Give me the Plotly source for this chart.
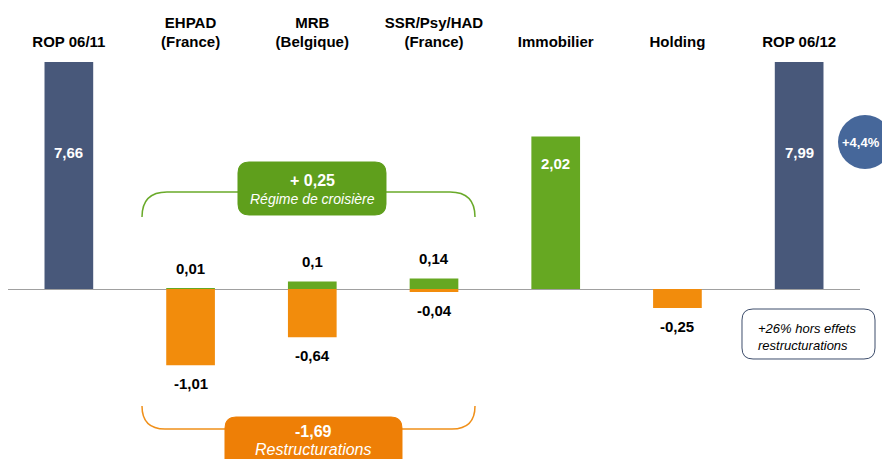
import plotly.graph_objects as go

# ---- data ----
categories = ["ROP 06/11", "EHPAD<br>(France)", "MRB<br>(Belgique)", "SSR/Psy/HAD<br>(France)",
              "Immobilier", "Holding", "ROP 06/12"]
rop_values = [7.66, None, None, None, None, None, 7.99]
gain_values = [None, 0.01, 0.1, 0.14, 2.02, None, None]
loss_values = [None, -1.01, -0.64, -0.04, None, -0.25, None]
croisiere_total = "+ 0,25"
croisiere_label = "Régime de croisière"
restruct_total = "-1,69"
restruct_label = "Restructurations"
growth_label = "+4,4%"
note_label = "+26% hors effets<br>restructurations"

# ---- styling / geometry ----
OFF = 8  # page body margin
W_FIG, H_FIG = 890 - OFF, 459 - OFF
L, T, R, B = 0, 62 - OFF, 30, 0
PW, PH = W_FIG - L - R, H_FIG - T - B
ZERO_PX = 289
SCALE = 75.5  # px per unit
PLOT_BOTTOM_PX = OFF + H_FIG
y_top = (ZERO_PX - 62) / SCALE
y_bot = -(PLOT_BOTTOM_PX - ZERO_PX) / SCALE

NAVY = "#48587a"
GREEN = "#66a822"
ORANGE = "#f28c0c"
FONT = "Liberation Sans, Arial, sans-serif"


def fmt(v):
    return f"{v:g}".replace(".", ",")


def px(x):
    return (x - OFF - L) / PW


def py(y):
    return (T + PH - (y - OFF)) / PH


def P(x, y):
    return f"{px(x):.5f},{py(y):.5f}"


def rrect(x0, y0, x1, y1, r):
    return (f"M {P(x0 + r, y0)} L {P(x1 - r, y0)} Q {P(x1, y0)} {P(x1, y0 + r)} "
            f"L {P(x1, y1 - r)} Q {P(x1, y1)} {P(x1 - r, y1)} L {P(x0 + r, y1)} "
            f"Q {P(x0, y1)} {P(x0, y1 - r)} L {P(x0, y0 + r)} Q {P(x0, y0)} {P(x0 + r, y0)} Z")


fig = go.Figure()
fig.add_trace(go.Bar(x=categories, y=rop_values, marker=dict(color=NAVY, line=dict(width=0)),
                     width=0.4, hoverinfo="skip"))
fig.add_trace(go.Bar(x=categories, y=gain_values, marker=dict(color=GREEN, line=dict(width=0)),
                     width=0.4, hoverinfo="skip"))
fig.add_trace(go.Bar(x=categories, y=loss_values, marker=dict(color=ORANGE, line=dict(width=0)),
                     width=0.4, hoverinfo="skip"))

annotations = []
# value labels
for i, v in enumerate(rop_values):
    if v is not None:
        annotations.append(dict(x=categories[i], y=y_top, xref="x", yref="y", text=f"<b>{fmt(v)}</b>",
                                showarrow=False, xanchor="center", yanchor="top", yshift=-80,
                                font=dict(family=FONT, size=15, color="white")))
for i, v in enumerate(gain_values):
    if v is None:
        continue
    if v > 1:
        annotations.append(dict(x=categories[i], y=v, text=f"<b>{fmt(v)}</b>", showarrow=False,
                                xanchor="center", yanchor="top", yshift=-17,
                                font=dict(family=FONT, size=15, color="white")))
    else:
        annotations.append(dict(x=categories[i], y=v, text=f"<b>{fmt(v)}</b>", showarrow=False,
                                xanchor="center", yanchor="bottom", yshift=9,
                                font=dict(family=FONT, size=15, color="black")))
for i, v in enumerate(loss_values):
    if v is None:
        continue
    annotations.append(dict(x=categories[i], y=v, text=f"<b>{fmt(v)}</b>", showarrow=False,
                            xanchor="center", yanchor="top", yshift=-8,
                            font=dict(family=FONT, size=15, color="black")))


# box texts
def ptext(x, y, text, size, color, **kw):
    d = dict(x=px(x), y=py(y), xref="paper", yref="paper", text=text, showarrow=False,
             xanchor="center", yanchor="middle", font=dict(family=FONT, size=size, color=color))
    d.update(kw)
    annotations.append(d)


ptext(312, 180, f"<b>{croisiere_total}</b>", 16, "white")
ptext(312, 199, f"<i>{croisiere_label}</i>", 14, "white")
ptext(313, 431, f"<b>{restruct_total}</b>", 16, "white")
ptext(313, 449, f"<i>{restruct_label}</i>", 16, "white")
ptext(861, 142, f"<b>{growth_label}</b>", 13, "white")
ptext(756, 337, f"<i>{note_label}</i>", 13, "black", xanchor="left", align="left")

shapes = [
    # green bracket
    dict(type="path", xref="paper", yref="paper",
         path=f"M {P(142, 217)} Q {P(142, 192)} {P(167, 192)} L {P(240, 192)}",
         line=dict(color="#6aaa2a", width=1.5)),
    dict(type="path", xref="paper", yref="paper",
         path=f"M {P(384, 192)} L {P(450, 192)} Q {P(475, 192)} {P(475, 217)}",
         line=dict(color="#6aaa2a", width=1.5)),
    dict(type="path", xref="paper", yref="paper", path=rrect(238, 162, 386, 215, 11),
         fillcolor="#5f9f1c", line=dict(color="#5f9f1c", width=1)),
    # orange bracket
    dict(type="path", xref="paper", yref="paper",
         path=f"M {P(142, 406)} Q {P(142, 429)} {P(165, 429)} L {P(227, 429)}",
         line=dict(color="#f0901a", width=1.5)),
    dict(type="path", xref="paper", yref="paper",
         path=f"M {P(400, 429)} L {P(452, 429)} Q {P(475, 429)} {P(475, 406)}",
         line=dict(color="#f0901a", width=1.5)),
    dict(type="path", xref="paper", yref="paper", path=rrect(225, 417, 402, 470, 11),
         fillcolor="#ee7f06", line=dict(color="#ee7f06", width=1)),
    # circle
    dict(type="circle", xref="paper", yref="paper", x0=px(838), x1=px(892), y0=py(169), y1=py(115),
         fillcolor="#46679a", line=dict(width=0)),
    # note box
    dict(type="path", xref="paper", yref="paper", path=rrect(742, 309, 875, 359, 11),
         fillcolor="white", line=dict(color="#3d4d6b", width=1)),
]

fig.update_layout(
    width=W_FIG, height=H_FIG,
    margin=dict(l=L, r=R, t=T, b=B),
    paper_bgcolor="white", plot_bgcolor="white",
    barmode="relative", showlegend=False,
    font=dict(family=FONT, size=15, color="black"),
    annotations=annotations, shapes=shapes,
    xaxis=dict(type="category", side="top", range=[-0.5, 6.5], showgrid=False, showline=False,
               ticks="", tickfont=dict(family="Liberation Sans, Arial, sans-serif", size=15,
                                       color="black", weight="bold"),
               ticklabelstandoff=11),
    yaxis=dict(range=[y_bot, y_top], showgrid=False, showticklabels=False, zeroline=True,
               zerolinecolor="#a0a0a0", zerolinewidth=1, showline=False),
)

fig.write_html("out.html")
